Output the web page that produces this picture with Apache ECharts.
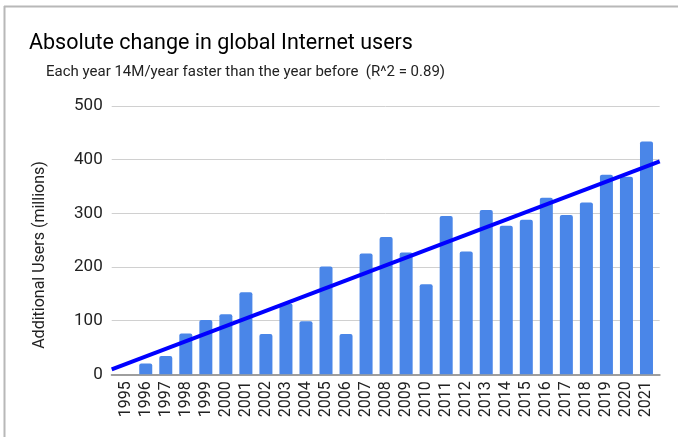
<!DOCTYPE html>
<html>
<head>
<meta charset="utf-8">
<script src="https://cdn.jsdelivr.net/npm/echarts@6/dist/echarts.min.js"></script>
<style>
html,body{margin:0;padding:0;background:#fff;}
#chart{width:678px;height:437px;}
</style>
</head>
<body>
<div id="chart"></div>
<script>
var years = [1995,1996,1997,1998,1999,2000,2001,2002,2003,2004,2005,2006,2007,2008,2009,2010,2011,2012,2013,2014,2015,2016,2017,2018,2019,2020,2021];
var additionalUsers = [0,20,34,76,101,112,153,75,132,99,201,75,225,256,227,168,295,229,306,277,288,329,297,320,372,368,434];
var trendYears = [1994.3, 2021.66];
var trendValues = [9.3, 397];
var yTicks = [0,100,200,300,400,500];
var titleText = 'Absolute change in global Internet users';
var subtitleText = 'Each year 14M/year faster than the year before  (R^2 = 0.89)';
var yAxisTitle = 'Additional Users (millions)';

var font = 'Roboto, "Noto Sans", Arial, sans-serif';
var chart = echarts.init(document.getElementById('chart'), null, {renderer:'canvas'});
chart.setOption({
  backgroundColor:'#fff',
  animation:false,
  title:[
    {text:titleText, left:29, top:33, padding:0, textStyle:{fontFamily:font, fontSize:21.5, fontWeight:'normal', color:'#000'}},
    {text:subtitleText, left:46, top:65, padding:0, textStyle:{fontFamily:font, fontSize:15, fontWeight:'normal', color:'#222'}}
  ],
  grid:{left:111.7, right:18.3, top:106, bottom:62.7, containLabel:false},
  xAxis:{
    type:'value', min:trendYears[0], max:trendYears[1],
    axisLine:{show:true, lineStyle:{color:'#9e9e9e', width:2}},
    axisTick:{show:false},
    splitLine:{show:false},
    axisLabel:{
      customValues:years, rotate:90, margin:7, fontFamily:font, fontSize:16, color:'#222',
      formatter:function(v){return String(Math.round(v));}
    }
  },
  yAxis:{
    type:'value', min:yTicks[0], max:yTicks[yTicks.length-1], interval:100,
    axisLine:{show:false}, axisTick:{show:false},
    splitLine:{lineStyle:{color:'#d0d0d0', width:1}},
    axisLabel:{margin:9, fontFamily:font, fontSize:17, color:'#222'}
  },
  graphic:[
    {type:'line', shape:{x1:4, y1:6.5, x2:678, y2:6.5}, style:{stroke:'#b8b8b8', lineWidth:2}},
    {type:'line', shape:{x1:4.5, y1:6, x2:4.5, y2:437}, style:{stroke:'#b8b8b8', lineWidth:2}},
    {type:'text', x:40, y:255, rotation:Math.PI/2,
     style:{text:yAxisTitle, x:0, y:0, align:'center', verticalAlign:'middle', font:'16px ' + font, fill:'#222', textAlign:'center', textVerticalAlign:'middle'}}
  ],
  series:[
    {type:'bar', barWidth:13, itemStyle:{color:'#4a86e8', borderRadius:[2,2,0,0]},
     data:years.map(function(y,i){return [y, additionalUsers[i]];})},
    {type:'line', symbol:'none', z:5, lineStyle:{color:'#0000ff', width:4},
     data:trendYears.map(function(y,i){return [y, trendValues[i]];})}
  ]
});
</script>
</body>
</html>
